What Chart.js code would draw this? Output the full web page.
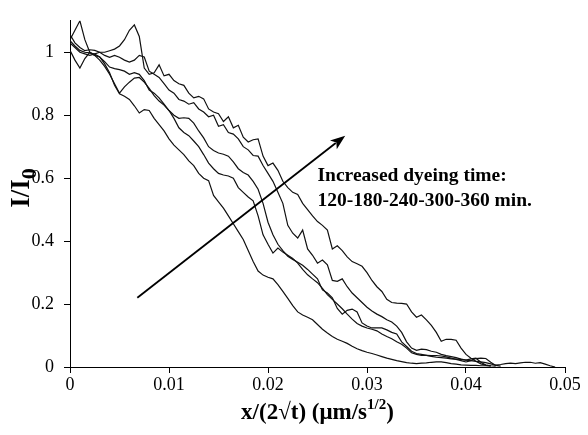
<!DOCTYPE html>
<html>
<head>
<meta charset="utf-8">
<script src="https://cdn.jsdelivr.net/npm/chart.js@4.4.0/dist/chart.umd.min.js"></script>
<style>
  html, body { margin: 0; padding: 0; background: #fff; }
  #wrap { width: 588px; height: 435px; }
</style>
</head>
<body>
<div id="wrap"><canvas id="profile" width="588" height="435"></canvas></div>
<script>
// distance x/(2*sqrt(t)), shared by all profiles
var xs = [
  0, 0.0005, 0.001, 0.0015, 0.002, 0.0025, 0.003, 0.0035, 0.004, 0.0045,
  0.005, 0.0055, 0.006, 0.0065, 0.007, 0.0075, 0.008, 0.0085, 0.009, 0.0095,
  0.01, 0.0105, 0.011, 0.0115, 0.012, 0.0125, 0.013, 0.0135, 0.014, 0.0145,
  0.015, 0.0155, 0.016, 0.0165, 0.017, 0.0175, 0.018, 0.0185, 0.019, 0.0195,
  0.02, 0.0205, 0.021, 0.0215, 0.022, 0.0225, 0.023, 0.0235, 0.024, 0.0245,
  0.025, 0.0255, 0.026, 0.0265, 0.027, 0.0275, 0.028, 0.0285, 0.029, 0.0295,
  0.03, 0.0305, 0.031, 0.0315, 0.032, 0.0325, 0.033, 0.0335, 0.034, 0.0345,
  0.035, 0.0355, 0.036, 0.0365, 0.037, 0.0375, 0.038, 0.0385, 0.039, 0.0395,
  0.04, 0.0405, 0.041, 0.0415, 0.042, 0.0425, 0.043, 0.0435, 0.044, 0.0445,
  0.045, 0.0455, 0.046, 0.0465, 0.047, 0.0475, 0.048, 0.0485, 0.049
];

// I/I0 for each dyeing time (min)
var t120 = [
  1.037, 1.02, 1.006, 1.0, 0.998, 0.994, 0.985, 0.963, 0.935, 0.895,
  0.868, 0.86, 0.85, 0.83, 0.807, 0.818, 0.815, 0.79, 0.77, 0.75,
  0.725, 0.705, 0.69, 0.675, 0.655, 0.64, 0.615, 0.6, 0.592, 0.545,
  0.525, 0.505, 0.48, 0.455, 0.43, 0.405, 0.37, 0.335, 0.305, 0.292,
  0.285, 0.28, 0.262, 0.24, 0.218, 0.195, 0.175, 0.165, 0.158, 0.15,
  0.135, 0.12, 0.108, 0.097, 0.088, 0.082, 0.075, 0.066, 0.058, 0.052,
  0.047, 0.043, 0.038, 0.033, 0.028, 0.024, 0.02, 0.017, 0.014, 0.012,
  0.011, 0.012, 0.013, 0.015, 0.016, 0.016, 0.014, 0.011, 0.009, 0.007,
  0.006, 0.005, 0.005, 0.004, 0.004, 0.003
];
var t180 = [
  1.006, 0.975, 0.95, 0.98, 1.0, 0.99, 0.975, 0.955, 0.93, 0.9,
  0.87, 0.89, 0.905, 0.918, 0.92, 0.905, 0.885, 0.862, 0.845, 0.832,
  0.815, 0.79, 0.76, 0.745, 0.735, 0.718, 0.7, 0.675, 0.648, 0.63,
  0.615, 0.61, 0.607, 0.6, 0.57, 0.555, 0.54, 0.528, 0.48, 0.42,
  0.39, 0.362, 0.378, 0.365, 0.355, 0.345, 0.33, 0.31, 0.293, 0.28,
  0.268, 0.25, 0.23, 0.215, 0.2, 0.185, 0.168, 0.152, 0.138, 0.13,
  0.124, 0.12, 0.115, 0.105, 0.097, 0.09, 0.08, 0.072, 0.06, 0.045,
  0.04, 0.037, 0.037, 0.036, 0.036, 0.035, 0.032, 0.028, 0.024, 0.02,
  0.016, 0.02, 0.027, 0.028, 0.027, 0.015, 0.005, 0.003
];
var t240 = [
  1.04, 1.07, 1.1, 1.04, 1.0, 0.99, 0.985, 0.97, 0.953, 0.948,
  0.945, 0.94, 0.93, 0.935, 0.93, 0.91, 0.88, 0.87, 0.855, 0.835,
  0.815, 0.8, 0.79, 0.792, 0.79, 0.775, 0.75, 0.728, 0.7, 0.688,
  0.68, 0.676, 0.67, 0.652, 0.63, 0.618, 0.61, 0.59, 0.565, 0.52,
  0.46, 0.42, 0.39, 0.37, 0.352, 0.342, 0.333, 0.323, 0.31, 0.295,
  0.28, 0.245, 0.235, 0.22, 0.186, 0.168, 0.18, 0.184, 0.175, 0.14,
  0.13, 0.124, 0.124, 0.124, 0.118, 0.11, 0.105, 0.08, 0.065, 0.05,
  0.043, 0.04, 0.037, 0.034, 0.031, 0.03, 0.028, 0.026, 0.025, 0.024,
  0.022, 0.02, 0.018, 0.016, 0.014, 0.01, 0.006, 0.008, 0.011, 0.012,
  0.011, 0.013, 0.015, 0.015, 0.012, 0.014, 0.009, 0.004, 0.0
];
var t300 = [
  1.056, 1.03, 1.015, 1.005, 1.008, 1.006, 1.0, 0.99, 0.984, 0.99,
  0.984, 0.975, 0.969, 0.975, 0.99, 0.985, 0.94, 0.93, 0.92, 0.9,
  0.88, 0.87, 0.85, 0.845, 0.835, 0.84, 0.82, 0.81, 0.795, 0.8,
  0.765, 0.77, 0.745, 0.74, 0.725, 0.7, 0.69, 0.672, 0.67, 0.64,
  0.615, 0.59, 0.555, 0.52, 0.45, 0.425, 0.41, 0.435, 0.375, 0.355,
  0.33, 0.34, 0.325, 0.275, 0.272, 0.28, 0.255, 0.235, 0.22, 0.205,
  0.19, 0.178, 0.168, 0.16, 0.15, 0.143, 0.13, 0.11, 0.08, 0.06,
  0.053, 0.057, 0.055, 0.05, 0.047, 0.04, 0.036, 0.033, 0.03, 0.025,
  0.022, 0.026, 0.028, 0.015, 0.006, 0.004
];
var t360 = [
  1.03, 1.015, 1.0, 0.995, 0.99, 0.995, 1.0, 1.0, 1.005, 1.01,
  1.02, 1.04, 1.07, 1.087, 1.05, 0.95, 0.93, 0.935, 0.96, 0.925,
  0.93, 0.91, 0.9, 0.895, 0.87, 0.855, 0.86, 0.852, 0.82, 0.81,
  0.805, 0.78, 0.795, 0.76, 0.768, 0.73, 0.715, 0.722, 0.725, 0.67,
  0.64, 0.648, 0.625, 0.59, 0.57, 0.555, 0.548, 0.52, 0.5, 0.48,
  0.462, 0.45, 0.435, 0.375, 0.385, 0.37, 0.35, 0.335, 0.328, 0.32,
  0.3, 0.275, 0.255, 0.24, 0.215, 0.205, 0.203, 0.202, 0.2, 0.175,
  0.158, 0.165, 0.15, 0.132, 0.11, 0.082, 0.088, 0.088, 0.085, 0.06,
  0.04, 0.028, 0.018, 0.01, 0.006, 0.004, 0.003
];

var xTicks = [0, 0.01, 0.02, 0.03, 0.04, 0.05];
var yTicks = [0, 0.2, 0.4, 0.6, 0.8, 1];

// annotation, in data units
var arrowFrom = [0.0068, 0.22];
var arrowTo = [0.0278, 0.735];
var noteAt = [0.0250, 0.606];
var noteLines = ['Increased dyeing time:', '120-180-240-300-360 min.'];

var serif = '"Liberation Serif", "Times New Roman", serif';

function toPoints(ys) {
    var pts = [];
    for (var i = 0; i < ys.length; i++) {
        pts.push({ x: xs[i], y: ys[i] });
    }
    return pts;
}

function profile(label, ys) {
    return {
        label: label,
        data: toPoints(ys),
        showLine: true,
        borderColor: '#111',
        borderWidth: 1.2,
        pointRadius: 0,
        fill: false,
        tension: 0
    };
}

var overlay = {
    id: 'overlay',
    afterDraw: function (chart) {
        var ctx = chart.ctx;
        var sx = chart.scales.x, sy = chart.scales.y;
        ctx.save();
        ctx.fillStyle = '#000';
        ctx.strokeStyle = '#000';

        // arrow
        var x0 = sx.getPixelForValue(arrowFrom[0]), y0 = sy.getPixelForValue(arrowFrom[1]);
        var x1 = sx.getPixelForValue(arrowTo[0]), y1 = sy.getPixelForValue(arrowTo[1]);
        var ang = Math.atan2(y1 - y0, x1 - x0);
        var head = 15, half = 5.5;
        ctx.lineWidth = 1.8;
        ctx.beginPath();
        ctx.moveTo(x0, y0);
        ctx.lineTo(x1 - Math.cos(ang) * head * 0.8, y1 - Math.sin(ang) * head * 0.8);
        ctx.stroke();
        ctx.beginPath();
        ctx.moveTo(x1, y1);
        ctx.lineTo(x1 - Math.cos(ang) * head - Math.sin(ang) * half, y1 - Math.sin(ang) * head + Math.cos(ang) * half);
        ctx.lineTo(x1 - Math.cos(ang) * head * 0.75, y1 - Math.sin(ang) * head * 0.75);
        ctx.lineTo(x1 - Math.cos(ang) * head + Math.sin(ang) * half, y1 - Math.sin(ang) * head - Math.cos(ang) * half);
        ctx.closePath();
        ctx.fill();

        // note
        ctx.font = 'bold 19.5px ' + serif;
        ctx.textAlign = 'left';
        ctx.textBaseline = 'middle';
        var nx = sx.getPixelForValue(noteAt[0]), ny = sy.getPixelForValue(noteAt[1]);
        ctx.fillText(noteLines[0], nx, ny);
        ctx.fillText(noteLines[1], nx, ny + 25);

        // y title: I/I0
        ctx.save();
        ctx.translate(29, 188);
        ctx.rotate(-Math.PI / 2);
        ctx.textBaseline = 'alphabetic';
        var main = 'I/I', sub = '0';
        ctx.font = 'bold 27px ' + serif;
        var wMain = ctx.measureText(main).width;
        ctx.font = 'bold 22px ' + serif;
        var wSub = ctx.measureText(sub).width;
        var start = -(wMain + wSub) / 2;
        ctx.font = 'bold 27px ' + serif;
        ctx.fillText(main, start, 0);
        ctx.font = 'bold 22px ' + serif;
        ctx.fillText(sub, start + wMain, 7);
        ctx.restore();

        // x title: x/(2√t) (μm/s^1/2)
        var parts = [
            { t: 'x/(2\u221At) (\u03BCm/s', size: 23, dy: 0 },
            { t: '1/2', size: 15, dy: -10 },
            { t: ')', size: 23, dy: 0 }
        ];
        var total = 0;
        parts.forEach(function (p) {
            ctx.font = 'bold ' + p.size + 'px ' + serif;
            p.w = ctx.measureText(p.t).width;
            total += p.w;
        });
        var cx = (chart.chartArea.left + chart.chartArea.right) / 2 - total / 2;
        ctx.textBaseline = 'alphabetic';
        parts.forEach(function (p) {
            ctx.font = 'bold ' + p.size + 'px ' + serif;
            ctx.fillText(p.t, cx, 419 + p.dy);
            cx += p.w;
        });
        ctx.restore();
    }
};

var tickLabel = function (v) { return String(+(+v).toFixed(3)); };

new Chart(document.getElementById('profile'), {
    type: 'scatter',
    data: {
        datasets: [
            profile('120 min', t120),
            profile('180 min', t180),
            profile('240 min', t240),
            profile('300 min', t300),
            profile('360 min', t360)
        ]
    },
    options: {
        responsive: false,
        animation: false,
        devicePixelRatio: 1,
        layout: { padding: { top: 12, right: 23, left: 0, bottom: 0 } },
        plugins: { legend: { display: false }, tooltip: { enabled: false } },
        scales: {
            x: {
                type: 'linear',
                min: 0,
                max: 0.05,
                afterBuildTicks: function (s) { s.ticks = xTicks.map(function (v) { return { value: v }; }); },
                afterFit: function (s) { s.height = 68; },
                grid: { drawOnChartArea: false, drawTicks: true, tickLength: 6, color: '#000', lineWidth: 1 },
                border: { display: true, color: '#000', width: 1 },
                ticks: { color: '#000', font: { family: serif, size: 18 }, padding: 1, maxRotation: 0, autoSkip: false, callback: tickLabel }
            },
            y: {
                type: 'linear',
                min: 0,
                max: 1.1,
                afterBuildTicks: function (s) { s.ticks = yTicks.map(function (v) { return { value: v }; }); },
                afterFit: function (s) { s.width = 70; },
                grid: { drawOnChartArea: false, drawTicks: true, tickLength: 6, color: '#000', lineWidth: 1 },
                border: { display: true, color: '#000', width: 1 },
                ticks: { color: '#000', font: { family: serif, size: 18 }, padding: 10, autoSkip: false, callback: tickLabel }
            }
        }
    },
    plugins: [overlay]
});
</script>
</body>
</html>
